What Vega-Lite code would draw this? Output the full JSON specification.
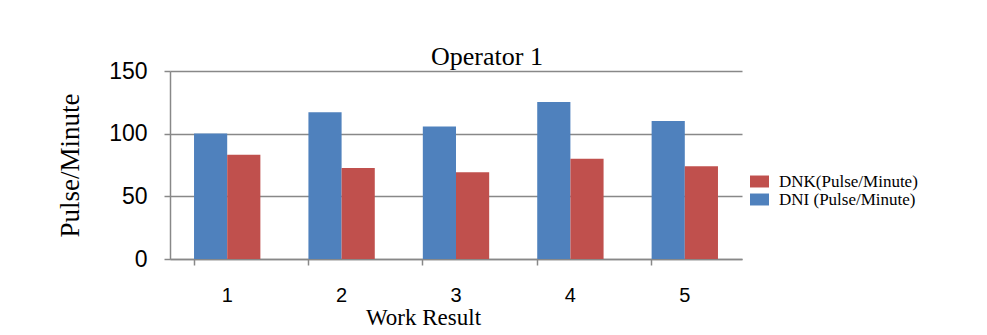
{
  "$schema": "https://vega.github.io/schema/vega-lite/v6.json",
  "width": 572,
  "height": 188,
  "autosize": {"type": "none"},
  "padding": {"left": 170, "top": 71, "right": 245, "bottom": 76},
  "background": "white",
  "title": {"text": "Operator 1", "font": "Liberation Serif", "fontSize": 26, "fontWeight": "normal", "color": "black", "offset": -10, "dx": 31},
  "data": {"values": [
    {"work": "1", "series": "DNI (Pulse/Minute)", "value": 100.2},
    {"work": "1", "series": "DNK(Pulse/Minute)", "value": 83.2},
    {"work": "2", "series": "DNI (Pulse/Minute)", "value": 117.1},
    {"work": "2", "series": "DNK(Pulse/Minute)", "value": 72.7},
    {"work": "3", "series": "DNI (Pulse/Minute)", "value": 105.8},
    {"work": "3", "series": "DNK(Pulse/Minute)", "value": 69.2},
    {"work": "4", "series": "DNI (Pulse/Minute)", "value": 125.2},
    {"work": "4", "series": "DNK(Pulse/Minute)", "value": 80.0},
    {"work": "5", "series": "DNI (Pulse/Minute)", "value": 110.1},
    {"work": "5", "series": "DNK(Pulse/Minute)", "value": 74.1}
  ]},
  "mark": {"type": "bar"},
  "encoding": {
    "x": {"field": "work", "type": "nominal", "title": "Work Result",
      "scale": {"paddingInner": 0.42, "paddingOuter": 0.21},
      "axis": {"labelAngle": 0, "labelFont": "Liberation Sans", "labelFontSize": 20, "labelColor": "black", "labelPadding": 20,
        "titleFont": "Liberation Serif", "titleFontSize": 23, "titleFontWeight": "normal", "titleColor": "black", "titlePadding": 1, "titleX": 253,
        "bandPosition": 0, "tickSize": 6, "tickColor": "#888", "domainColor": "#888", "domainWidth": 1.5, "tickWidth": 1.5}},
    "xOffset": {"field": "series", "type": "nominal", "sort": ["DNI (Pulse/Minute)", "DNK(Pulse/Minute)"], "scale": {"paddingInner": 0}},
    "y": {"field": "value", "type": "quantitative", "title": "Pulse/Minute",
      "scale": {"domain": [0, 150]},
      "axis": {"values": [0, 50, 100, 150], "labelFont": "Liberation Sans", "labelFontSize": 23, "labelColor": "black", "labelPadding": 17,
        "titleFont": "Liberation Serif", "titleFontSize": 27, "titleFontWeight": "normal", "titleColor": "black", "titlePadding": 24,
        "grid": true, "gridColor": "#888", "gridWidth": 1.5, "tickSize": 6, "tickColor": "#888", "tickWidth": 1.5,
        "domainColor": "#888", "domainWidth": 1.5}},
    "color": {"field": "series", "type": "nominal",
      "scale": {"domain": ["DNK(Pulse/Minute)", "DNI (Pulse/Minute)"], "range": ["#C0504D", "#4F81BD"]},
      "legend": {"title": null, "orient": "none", "legendX": 580, "legendY": 101,
        "symbolType": "M-1,-0.63L1,-0.63L1,0.63L-1,0.63Z", "symbolSize": 361,
        "symbolStrokeWidth": 0, "labelOffset": 10, "labelFont": "Liberation Serif", "labelFontSize": 17, "labelColor": "black", "rowPadding": 0, "labelLimit": 240}}
  },
  "config": {"view": {"stroke": null}}
}
